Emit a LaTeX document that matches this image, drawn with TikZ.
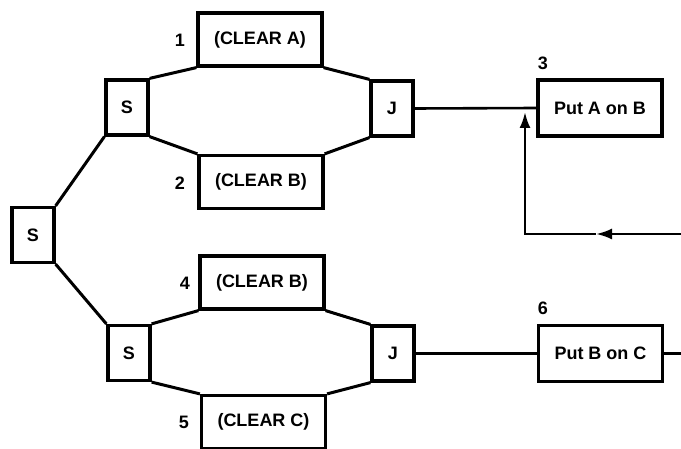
\documentclass[tikz,border=0pt]{standalone}
\usepackage{fontspec}
\setmainfont{Liberation Sans}
\usetikzlibrary{arrows.meta}
\begin{document}
\begin{tikzpicture}[x=1pt,y=-1pt,
  box/.style={draw,line width=3.2pt,inner sep=0pt,font=\fontsize{18}{21}\selectfont\bfseries},
  sj/.style={box,minimum width=42pt,minimum height=55pt},
  clr/.style={box,minimum width=124pt,minimum height=53pt},
  put/.style={box,minimum width=124pt,minimum height=56pt},
  num/.style={inner sep=0pt,font=\fontsize{18}{21}\selectfont\bfseries},
  conn/.style={line width=3pt},
  hline/.style={line width=2.6pt},
  tip/.style={-{Latex[length=16pt,width=11pt]}}]
\useasboundingbox (0,0) rectangle (681,449);
% top group
\node[clr] (c1) at (260,39.5) {(CLEAR A)};
\node[sj]  (s1) at (127,107.5) {S};
\node[clr] (c2) at (261,182) {(CLEAR B)};
\node[sj]  (j1) at (392,108.5) {J};
\node[put] (p3) at (600,108) {Put A on B};
% root
\node[sj]  (s0) at (33,235) {S};
% bottom group
\node[clr] (c4) at (262,282.5) {(CLEAR B)};
\node[sj]  (s2) at (129,353) {S};
\node[clr] (c5) at (263.5,422) {(CLEAR C)};
\node[sj]  (j2) at (393,353.5) {J};
\node[put] (p6) at (600.5,353.5) {Put B on C};
% numbers
\node[num] (n1) at (180,40) {1};
\node[num] (n2) at (180,183) {2};
\node[num] (n3) at (543,63) {3};
\node[num] (n4) at (185,283) {4};
\node[num] (n5) at (184,422) {5};
\node[num] (n6) at (543,308) {6};
% tree connectors
\draw[conn] (s0.north east) -- (s1.south west);
\draw[conn] (s0.south east) -- (s2.north west);
% top octagon
\draw[conn] (s1.north east) -- (c1.south west);
\draw[conn] (c1.south east) -- (j1.north west);
\draw[conn] (s1.south east) -- (c2.north west);
\draw[conn] (c2.north east) -- (j1.south west);
% bottom octagon
\draw[conn] (s2.north east) -- (c4.south west);
\draw[conn] (c4.south east) -- (j2.north west);
\draw[conn] (s2.south east) -- (c5.north west);
\draw[conn] (c5.north east) -- (j2.south west);
% joins to actions
\draw[hline] (j1.east) -- (p3.west);
\draw[hline] (j2.east) -- (p6.west);
\coordinate (outR) at (681,353.5);
\draw[hline] (p6.east) -- (outR);
% feedback
\coordinate (fbR) at (681,234);
\coordinate (fbM) at (596,234);
\coordinate (fbC) at (525,234);
\coordinate (fbT) at (525,112);
\draw[hline,tip] (fbR) -- (fbM);
\draw[hline,tip] (fbM) -- (fbC) -- (fbT);
\end{tikzpicture}
\end{document}
